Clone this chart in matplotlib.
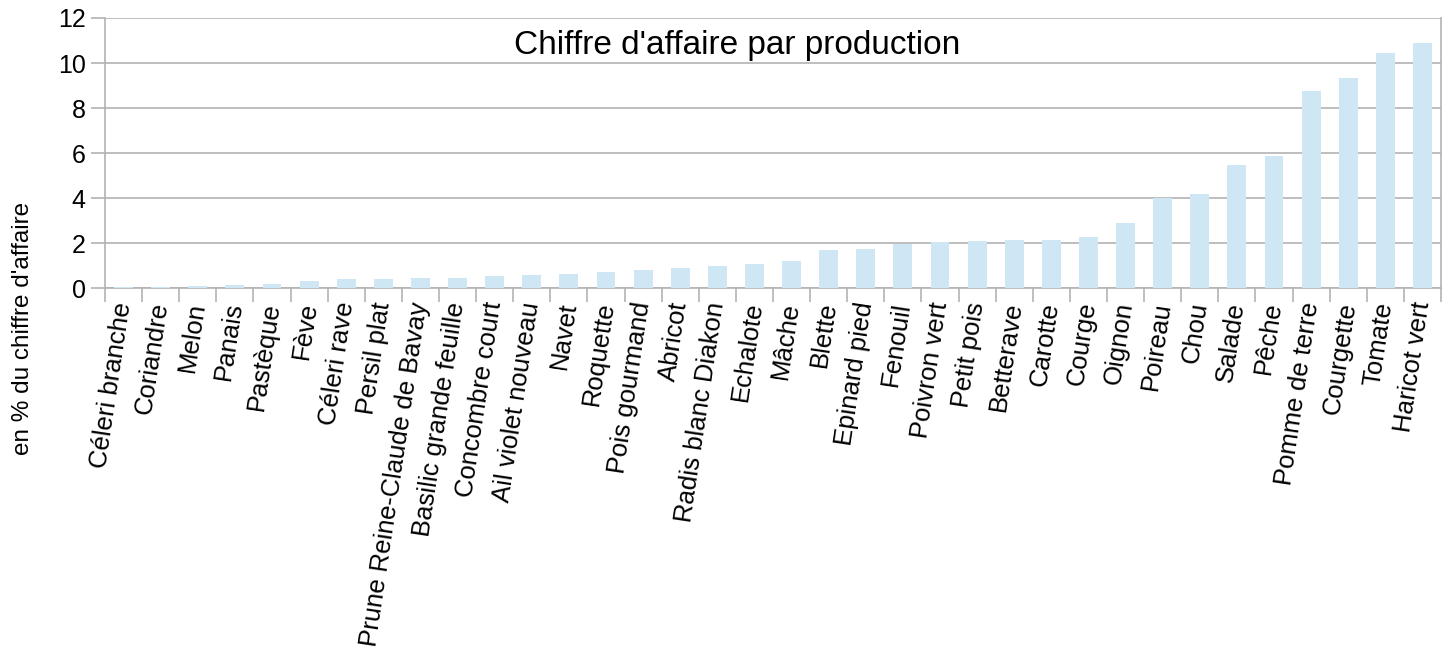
import numpy as np
import matplotlib.pyplot as plt

# chiffre d'affaire par production, en %
productions = ["Céleri branche", "Coriandre", "Melon", "Panais", "Pastèque", "Fève",
               "Céleri rave", "Persil plat", "Prune Reine-Claude de Bavay",
               "Basilic grande feuille", "Concombre court", "Ail violet nouveau",
               "Navet", "Roquette", "Pois gourmand", "Abricot", "Radis blanc Diakon",
               "Echalote", "Mâche", "Blette", "Epinard pied", "Fenouil", "Poivron vert",
               "Petit pois", "Betterave", "Carotte", "Courge", "Oignon", "Poireau",
               "Chou", "Salade", "Pêche", "Pomme de terre", "Courgette", "Tomate",
               "Haricot vert"]
pourcentages = [0.07, 0.07, 0.10, 0.15, 0.19, 0.33,
                0.41, 0.41, 0.46,
                0.46, 0.55, 0.59,
                0.64, 0.73, 0.81, 0.90, 0.99,
                1.08, 1.21, 1.70, 1.75, 1.97, 2.06,
                2.10, 2.15, 2.15, 2.28, 2.90, 4.00,
                4.19, 5.48, 5.88, 8.77, 9.35, 10.46,
                10.90]
y_ticks = [0, 2, 4, 6, 8, 10, 12]

plt.rcParams['font.family'] = ['Liberation Sans', 'DejaVu Sans']
grey = '#b3b3b3'

fig = plt.figure(figsize=(14.52, 6.56), dpi=100)
ax = fig.add_axes([0.0723, 0.5605, 0.9201, 0.4121])

x = np.arange(len(productions))
ax.bar(x, pourcentages, width=0.51, color='#cfe6f4', zorder=3)

ax.set_xlim(-0.5, len(productions) - 0.5)
ax.set_ylim(0, 12)
ax.set_yticks(y_ticks)
ax.set_yticklabels([str(v) for v in y_ticks], fontsize=18)
ax.yaxis.grid(True, color=grey, linewidth=1.2, zorder=0)

ax.set_xticks(x)
ax.set_xticklabels(productions, fontsize=18.5, rotation=81.5, ha='right', va='center',
                   rotation_mode='anchor')
ax.set_xticks(np.arange(-0.5, len(productions)), minor=True)
ax.tick_params(axis='x', which='major', length=0, pad=10)
ax.tick_params(axis='x', which='minor', length=10, color=grey, width=1.2)
ax.tick_params(axis='y', length=10, color=grey, width=1.2, pad=4)

for side in ['left', 'bottom', 'right']:
    ax.spines[side].set_color(grey)
    ax.spines[side].set_linewidth(1.2)
ax.spines['top'].set_visible(False)

fig.text(0.508, 0.931, "Chiffre d'affaire par production", fontsize=24,
         ha='center', va='center')
fig.text(0.016, 0.50, "en % du chiffre d'affaire", fontsize=17.5, rotation=90,
         ha='center', va='center')

fig.savefig('out.png', dpi=100)
